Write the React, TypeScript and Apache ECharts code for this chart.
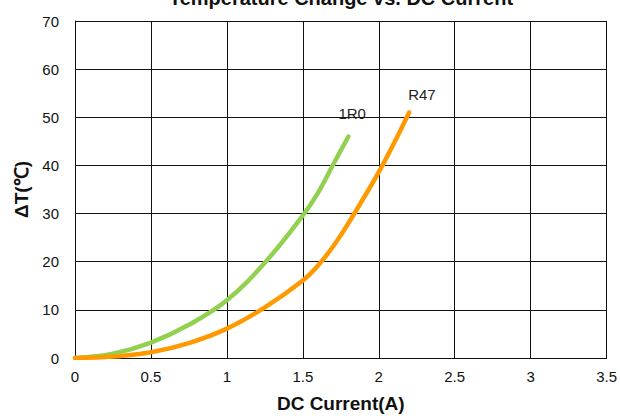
import React, { useEffect, useRef } from "react";
import * as echarts from "echarts";

const titleText = "Temperature Change vs. DC Current";
const xAxisName = "DC Current(A)";
const yAxisName = "ΔT(℃)";

const currentR0 = [0, 0.25, 0.5, 0.75, 1.0, 1.25, 1.5, 1.6, 1.7, 1.8];
const tempR0 = [0, 0.9, 3.2, 6.9, 12, 19.8, 29.6, 34.3, 40.2, 46];

const currentR47 = [0, 0.25, 0.5, 0.75, 1.0, 1.25, 1.5, 1.6, 1.7, 1.8, 1.9, 2.0, 2.1, 2.2];
const tempR47 = [0, 0.3, 1.2, 3.1, 6.1, 10.5, 16.1, 19.2, 23.2, 28, 33.2, 38.6, 44.6, 51];

const seriesNames = ["1R0", "R47"];

function App() {
  const ref = useRef<HTMLDivElement>(null);
  useEffect(() => {
    if (!ref.current) return;
    const chart = echarts.init(ref.current, undefined, { renderer: "svg" });
    const font = "Liberation Sans, Arial, sans-serif";
    chart.setOption({
      animation: false,
      backgroundColor: "#ffffff",
      graphic: [
        {
          type: "text",
          x: 341,
          y: 8,
          style: {
            text: titleText,
            fontFamily: font,
            fontWeight: "bold",
            fontSize: 20,
            fill: "#111",
            textAlign: "center",
            textVerticalAlign: "bottom",
          },
        },
      ],
      grid: { left: 75, right: 13, top: 21, bottom: 56 },
      xAxis: {
        type: "value",
        min: 0,
        max: 3.5,
        interval: 0.5,
        name: xAxisName,
        nameLocation: "middle",
        nameGap: 36,
        nameTextStyle: { fontFamily: font, fontWeight: "bold", fontSize: 19, color: "#111" },
        axisLine: { show: true, lineStyle: { color: "#111", width: 1 } },
        axisTick: { show: false },
        axisLabel: { fontFamily: font, fontSize: 15, color: "#111", margin: 11 },
        splitLine: { show: true, lineStyle: { color: "#111", width: 1 } },
      },
      yAxis: {
        type: "value",
        min: 0,
        max: 70,
        interval: 10,
        name: yAxisName,
        nameLocation: "middle",
        nameGap: 43,
        nameTextStyle: { fontFamily: font, fontWeight: "bold", fontSize: 19, color: "#111" },
        axisLine: { show: true, lineStyle: { color: "#111", width: 1 } },
        axisTick: { show: false },
        axisLabel: { fontFamily: font, fontSize: 15, color: "#111", margin: 16 },
        splitLine: { show: true, lineStyle: { color: "#111", width: 1 } },
      },
      series: [
        {
          name: seriesNames[0],
          type: "line",
          smooth: 0.4,
          showSymbol: false,
          data: currentR0.map((x, i) => [x, tempR0[i]]),
          lineStyle: { color: "#92D050", width: 4.5, cap: "round" },
          itemStyle: { color: "#92D050" },
          endLabel: {
            show: true,
            formatter: seriesNames[0],
            fontFamily: font,
            fontSize: 15,
            color: "#222",
            offset: [-18, -23],
          },
        },
        {
          name: seriesNames[1],
          type: "line",
          smooth: 0.4,
          showSymbol: false,
          data: currentR47.map((x, i) => [x, tempR47[i]]),
          lineStyle: { color: "#FF9900", width: 4.5, cap: "round" },
          itemStyle: { color: "#FF9900" },
          endLabel: {
            show: true,
            formatter: seriesNames[1],
            fontFamily: font,
            fontSize: 15,
            color: "#222",
            offset: [-9, -18],
          },
        },
      ],
    });
    return () => chart.dispose();
  }, []);
  return <div ref={ref} style={{ width: 620, height: 418, position: "absolute", left: 0, top: 0 }} />;
}

export default App;
